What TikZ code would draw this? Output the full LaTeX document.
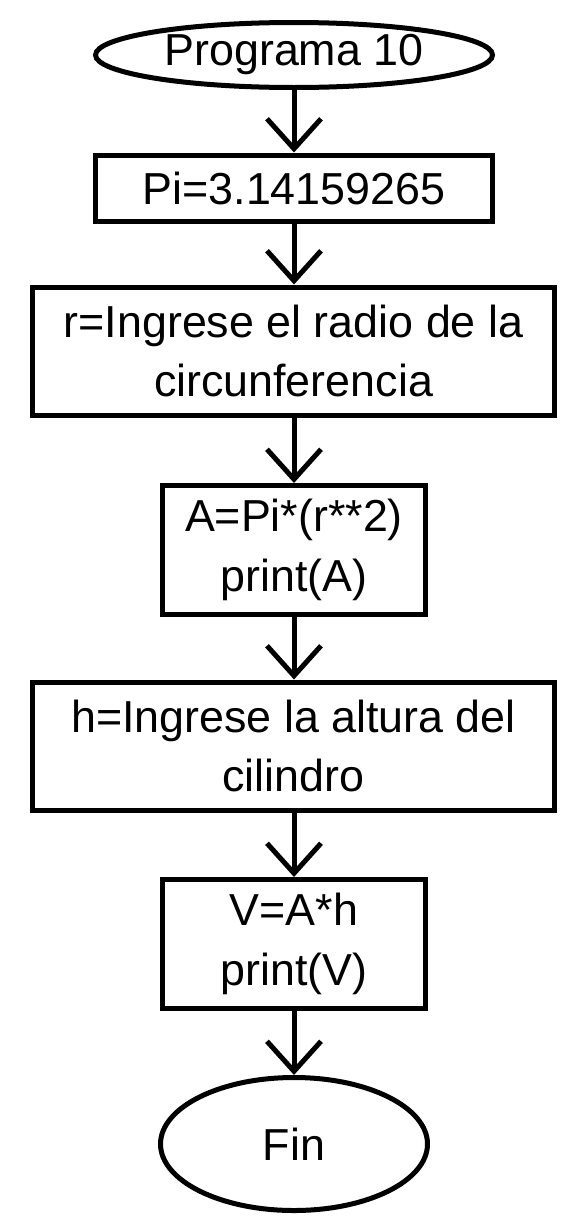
\documentclass[tikz,border=0pt]{standalone}
\usepackage{fontspec}
\setmainfont{Liberation Sans}
\usetikzlibrary{shapes.geometric, arrows.meta}

\begin{document}
\begin{tikzpicture}

\tikzset{bloque/.style = {shape=rectangle,draw,line width=0.1cm,align=center,inner sep=0pt,font=\fontsize{25.5}{34}\selectfont}}
\tikzset{terminal/.style = {shape=ellipse,draw,line width=0.1cm,inner sep=0pt,font=\fontsize{25.5}{34}\selectfont}}
\tikzset{flecha/.style = {line width=0.1cm,-{Straight Barb[length=0.6cm,width=1.08cm,line width=0.1cm]}}}

\useasboundingbox (0,0) rectangle (11.54,-24.62);

% nodos
\node[terminal, minimum width=7.94cm, minimum height=1.3cm] (inicio) at (5.88,-1.10) {Programa 10};
\node[bloque, minimum width=7.94cm, minimum height=1.32cm] (pi) at (5.88,-3.76) {Pi=3.14159265};
\node[bloque, minimum width=10.44cm, minimum height=2.56cm] (radio) at (5.87,-7.02) {r=Ingrese el radio de la\\circunferencia};
\node[bloque, minimum width=5.26cm, minimum height=2.58cm] (area) at (5.88,-11.00) {A=Pi*(r**2)\\print(A)};
\node[bloque, minimum width=10.44cm, minimum height=2.56cm] (altura) at (5.87,-14.92) {h=Ingrese la altura del\\cilindro};
\node[bloque, minimum width=5.26cm, minimum height=2.58cm] (volumen) at (5.88,-18.88) {V=A*h\\print(V)};
\node[terminal, minimum width=5.34cm, minimum height=2.66cm] (fin) at (5.88,-22.88) {Fin};

%flechas
\draw [flecha] (inicio) -- (pi);
\draw [flecha] (pi) -- (radio.north -| pi);
\draw [flecha] (radio.south -| pi) -- (area);
\draw [flecha] (area) -- (altura.north -| area);
\draw [flecha] (altura.south -| area) -- (volumen);
\draw [flecha] (volumen) -- (fin);

\end{tikzpicture}
\end{document}
